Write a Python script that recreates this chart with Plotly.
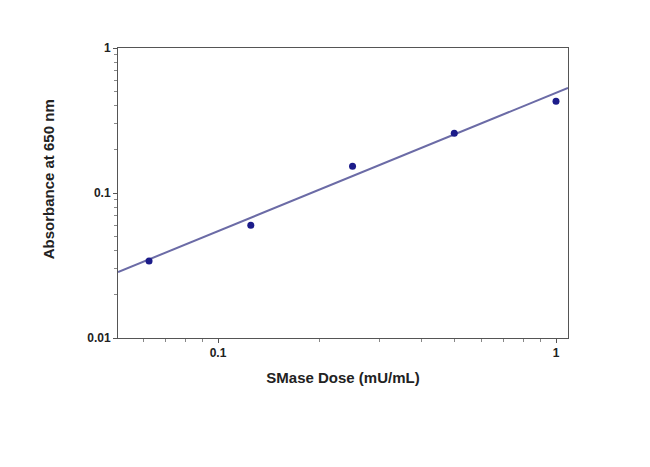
import plotly.graph_objects as go

dose = [0.0625, 0.125, 0.25, 0.5, 1.0]
absorbance = [0.034, 0.060, 0.153, 0.258, 0.43]
fit_dose = [0.0506, 1.085]
fit_abs = [0.0285, 0.53]

fig = go.Figure()
fig.add_trace(go.Scatter(x=fit_dose, y=fit_abs, mode="lines",
                         line=dict(color="#6b6ba6", width=2), showlegend=False))
fig.add_trace(go.Scatter(x=dose, y=absorbance, mode="markers",
                         marker=dict(color="#1c1c8a", size=7, symbol="circle"),
                         showlegend=False))

font = dict(family="Liberation Sans, Arial, sans-serif", size=12, color="#222222")
fig.update_layout(
    width=650, height=467,
    margin=dict(l=110, r=90, t=40, b=137),
    paper_bgcolor="white", plot_bgcolor="white",
    font=font,
)
fig.update_xaxes(type="log", range=[-1.296, 0.0355],
                 tickvals=[0.1, 1], ticktext=["<b>0.1</b>", "<b>1</b>"],
                 ticks="outside", ticklen=4, tickcolor="#555", tickwidth=1,
                 showline=True, linecolor="#555", linewidth=1, mirror=True,
                 showgrid=False, zeroline=False,
                 minor=dict(ticks="outside", ticklen=3, tickcolor="#888",
                            tickvals=[0.06, 0.07, 0.08, 0.09, 0.2, 0.3, 0.4, 0.5, 0.6, 0.7, 0.8, 0.9], showgrid=False),
                 title=dict(text="<b>SMase Dose (mU/mL)</b>", standoff=13,
                            font=dict(size=15)))
fig.update_yaxes(type="log", range=[-2, 0],
                 tickvals=[0.01, 0.1, 1], ticktext=["<b>0.01</b>", "<b>0.1</b>", "<b>1</b>"],
                 ticks="outside", ticklen=4, tickcolor="#555", tickwidth=1,
                 showline=True, linecolor="#555", linewidth=1, mirror=True,
                 showgrid=False, zeroline=False,
                 minor=dict(ticks="outside", ticklen=3, tickcolor="#888",
                            tickvals=[0.02, 0.03, 0.04, 0.05, 0.06, 0.07, 0.08, 0.09,
                                      0.2, 0.3, 0.4, 0.5, 0.6, 0.7, 0.8, 0.9], showgrid=False))
fig.add_annotation(text="<b>Absorbance at 650 nm</b>", textangle=-90,
                   xref="paper", yref="paper", x=-0.155, y=0.548,
                   xanchor="center", yanchor="middle", showarrow=False,
                   font=dict(size=15, color="#222222"))

fig.write_html("out.html")
